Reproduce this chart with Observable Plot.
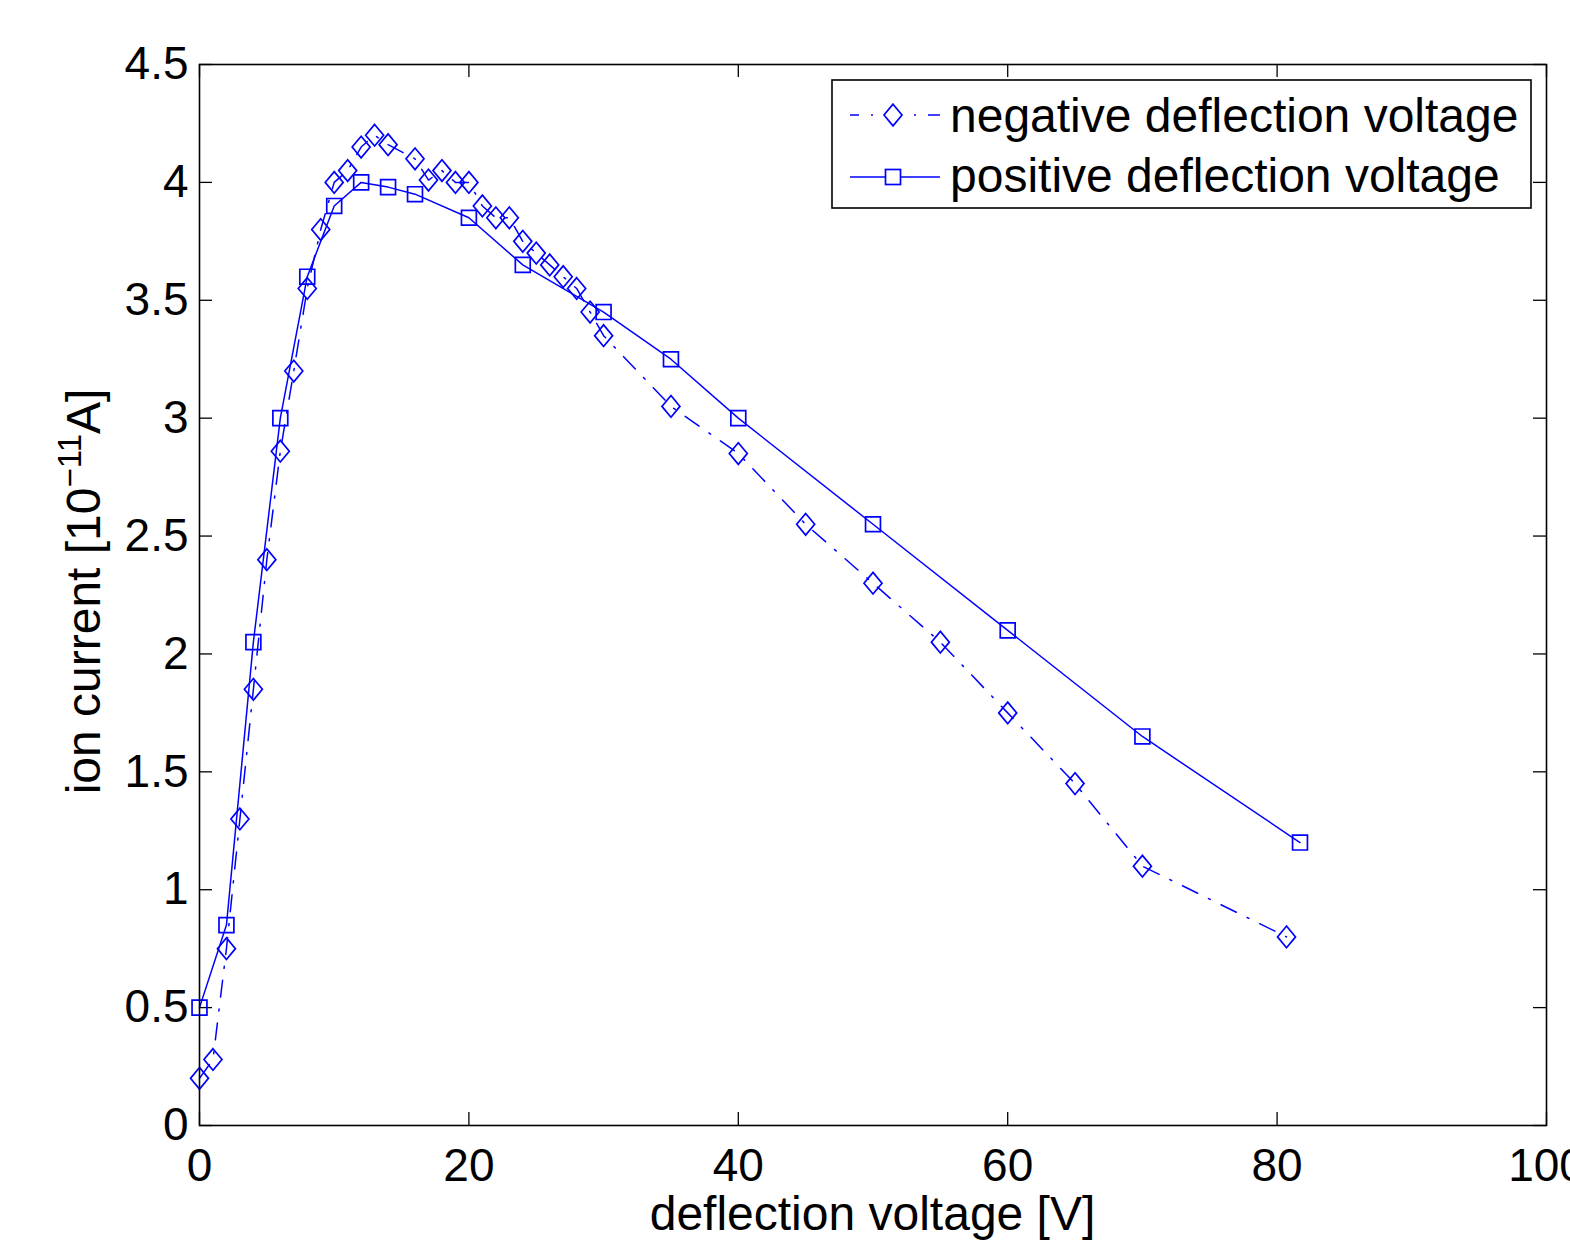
<!DOCTYPE html>
<html><head><meta charset="utf-8">
<script src="https://cdn.jsdelivr.net/npm/d3@7"></script>
<script src="https://cdn.jsdelivr.net/npm/@observablehq/plot@0.6"></script>
<style>
body{margin:0;background:#fff}
#wrap{position:relative;width:1570px;height:1247px;font-family:"Liberation Sans",Arial,Helvetica,sans-serif}
#legend{position:absolute;left:831px;top:79px}
</style>
</head><body><div id="wrap"></div>
<script>
// negative deflection voltage (diamonds, dash-dot)
const negX = [0,1,2,3,4,5,6,7,8,9,10,11,12,13,14,16,17,18,19,20,21,22,23,24,25,26,27,28,29,30,35,40,45,50,55,60,65,70,80.7];
const negY = [0.20,0.28,0.75,1.30,1.85,2.40,2.86,3.20,3.55,3.80,4.00,4.05,4.15,4.20,4.16,4.10,4.01,4.05,4.00,4.00,3.90,3.85,3.85,3.75,3.70,3.65,3.60,3.55,3.45,3.35,3.05,2.85,2.55,2.30,2.05,1.75,1.45,1.10,0.80];
// positive deflection voltage (squares, solid)
const posX = [0,2,4,6,8,10,12,14,16,20,24,30,35,40,50,60,70,81.7];
const posY = [0.50,0.85,2.05,3.00,3.60,3.90,4.00,3.98,3.95,3.85,3.65,3.45,3.25,3.00,2.55,2.10,1.65,1.20];
const xTicks = [0,20,40,60,80,100];
const yTicks = [0,0.5,1,1.5,2,2.5,3,3.5,4,4.5];
const seriesNames = ["negative deflection voltage","positive deflection voltage"];
const xLabel = "deflection voltage [V]";

const neg = negX.map((x,i)=>({x, y:negY[i]}));
const pos = posX.map((x,i)=>({x, y:posY[i]}));

const W = 1570, H = 1247, mL = 199, mR = 24, mT = 64, mB = 122;
const innerW = W - mL - mR, innerH = H - mT - mB, tk = 13;
const blue = "#0000ff";
const dashDot = "17,12,2,12";

// MATLAB-style diamond: slightly taller than wide
const tallDiamond = {
  draw(ctx, size) {
    const r = Math.sqrt(size / Math.PI), h = r * 1.2;
    ctx.moveTo(0, -h); ctx.lineTo(r, 0); ctx.lineTo(0, h); ctx.lineTo(-r, 0); ctx.closePath();
  }
};

const plot = Plot.plot({
  width: W, height: H,
  marginLeft: mL, marginRight: mR, marginTop: mT, marginBottom: mB,
  style: {fontFamily: '"Liberation Sans", Arial, Helvetica, sans-serif', fontSize: "46px", background: "#fff", overflow: "visible"},
  x: {domain: [0,100]},
  y: {domain: [0,4.5]},
  marks: [
    Plot.axisX(xTicks, {tickSize: 0, tickPadding: 23, label: null, fontSize: 46, fill: "#000"}),
    Plot.axisY(yTicks, {tickSize: 0, tickPadding: 11, label: null, fontSize: 46, fill: "#000", tickFormat: d => String(d)}),
    Plot.tickX(xTicks, {x: d => d, insetTop: innerH - tk, stroke: "#000", strokeWidth: 1.3}),
    Plot.tickX(xTicks, {x: d => d, insetBottom: innerH - tk, stroke: "#000", strokeWidth: 1.3}),
    Plot.tickY(yTicks, {y: d => d, insetRight: innerW - tk, stroke: "#000", strokeWidth: 1.3}),
    Plot.tickY(yTicks, {y: d => d, insetLeft: innerW - tk, stroke: "#000", strokeWidth: 1.3}),
    Plot.line(neg, {x: "x", y: "y", stroke: blue, strokeWidth: 1.5, strokeDasharray: dashDot}),
    Plot.dot(neg, {x: "x", y: "y", symbol: tallDiamond, r: 9, stroke: blue, strokeWidth: 1.7, fill: "none"}),
    Plot.line(pos, {x: "x", y: "y", stroke: blue, strokeWidth: 1.5}),
    Plot.dot(pos, {x: "x", y: "y", symbol: "square", r: 8.4, stroke: blue, strokeWidth: 1.7, fill: "none"}),
    Plot.frame({stroke: "#000", strokeWidth: 1.6})
  ]
});
document.getElementById("wrap").appendChild(plot);

const svg = d3.select(plot);
// x label
svg.append("text").attr("x", mL + innerW/2).attr("y", 1230)
  .attr("text-anchor","middle").attr("font-size", 48).attr("fill","#000").text(xLabel);
// y label with superscript
const yl = svg.append("text").attr("transform", `translate(100,${mT + innerH/2 - 3}) rotate(-90)`)
  .attr("text-anchor","middle").attr("font-size", 48).attr("fill","#000");
yl.append("tspan").text("ion current [10");
yl.append("tspan").attr("dy", -19).attr("font-size", 33).text("\u221211");
yl.append("tspan").attr("dy", 19).text("A]");

// legend
const lg = d3.select("#wrap").append("svg").attr("id","legend").attr("width", 703).attr("height", 132)
  .style("font-family",'"Liberation Sans", Arial, Helvetica, sans-serif');
lg.append("rect").attr("x",1).attr("y",1).attr("width",699).attr("height",128)
  .attr("fill","#fff").attr("stroke","#000").attr("stroke-width",1.6);
const rows = [
  {y: 36, base: 53, dash: dashDot, sym: "diamond"},
  {y: 98, base: 113, dash: null, sym: "square"}
];
rows.forEach((r, i) => {
  const ln = lg.append("line").attr("x1",19).attr("x2",109).attr("y1",r.y).attr("y2",r.y)
    .attr("stroke",blue).attr("stroke-width",1.5);
  if (r.dash) ln.attr("stroke-dasharray", r.dash).attr("stroke-dashoffset", 8);
  if (r.sym === "diamond") {
    lg.append("path").attr("d", `M62,${r.y-10.8}L71,${r.y}L62,${r.y+10.8}L53,${r.y}Z`)
      .attr("fill","#fff").attr("stroke",blue).attr("stroke-width",1.7);
  } else {
    lg.append("rect").attr("x",54.5).attr("y",r.y-7.5).attr("width",15).attr("height",15)
      .attr("fill","#fff").attr("stroke",blue).attr("stroke-width",1.7);
  }
  lg.append("text").attr("x",119).attr("y",r.base).attr("font-size",48).attr("fill","#000").text(seriesNames[i]);
});
</script>
</body></html>
